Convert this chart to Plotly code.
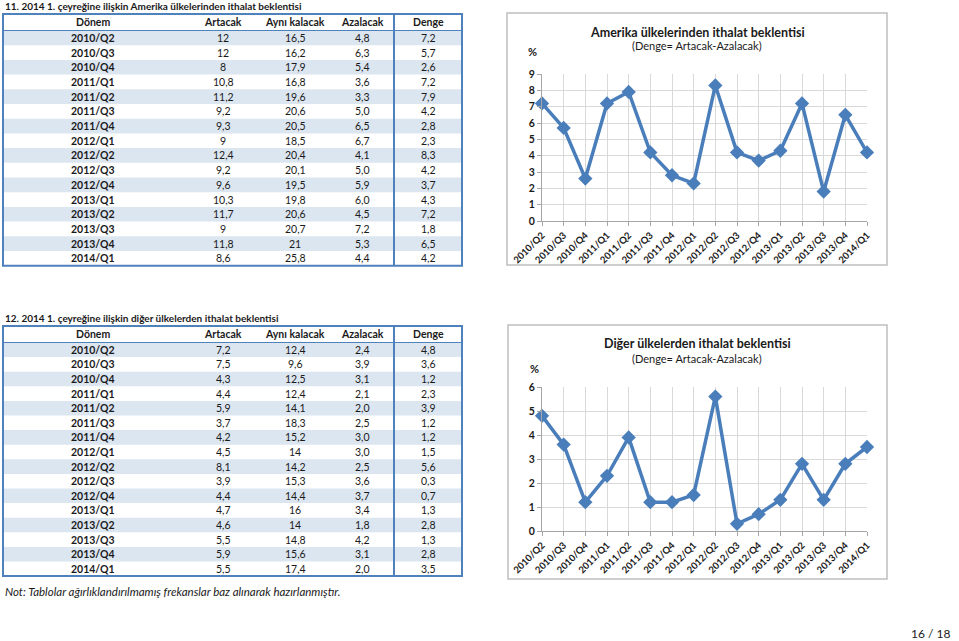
import plotly.graph_objects as go

W, H = 959, 641

periods = ["2010/Q2", "2010/Q3", "2010/Q4", "2011/Q1", "2011/Q2", "2011/Q3", "2011/Q4", "2012/Q1",
           "2012/Q2", "2012/Q3", "2012/Q4", "2013/Q1", "2013/Q2", "2013/Q3", "2013/Q4", "2014/Q1"]
col_headers = ["Dönem", "Artacak", "Aynı kalacak", "Azalacak", "Denge"]

am_artacak = [12, 12, 8, 10.8, 11.2, 9.2, 9.3, 9, 12.4, 9.2, 9.6, 10.3, 11.7, 9, 11.8, 8.6]
am_ayni = [16.5, 16.2, 17.9, 16.8, 19.6, 20.6, 20.5, 18.5, 20.4, 20.1, 19.5, 19.8, 20.6, 20.7, 21, 25.8]
am_azalacak = [4.8, 6.3, 5.4, 3.6, 3.3, 5.0, 6.5, 6.7, 4.1, 5.0, 5.9, 6.0, 4.5, 7.2, 5.3, 4.4]
am_denge = [7.2, 5.7, 2.6, 7.2, 7.9, 4.2, 2.8, 2.3, 8.3, 4.2, 3.7, 4.3, 7.2, 1.8, 6.5, 4.2]

dg_artacak = [7.2, 7.5, 4.3, 4.4, 5.9, 3.7, 4.2, 4.5, 8.1, 3.9, 4.4, 4.7, 4.6, 5.5, 5.9, 5.5]
dg_ayni = [12.4, 9.6, 12.5, 12.4, 14.1, 18.3, 15.2, 14, 14.2, 15.3, 14.4, 16, 14, 14.8, 15.6, 17.4]
dg_azalacak = [2.4, 3.9, 3.1, 2.1, 2.0, 2.5, 3.0, 3.0, 2.5, 3.6, 3.7, 3.4, 1.8, 4.2, 3.1, 2.0]
dg_denge = [4.8, 3.6, 1.2, 2.3, 3.9, 1.2, 1.2, 1.5, 5.6, 0.3, 0.7, 1.3, 2.8, 1.3, 2.8, 3.5]

title1 = "11. 2014 1. çeyreğine ilişkin Amerika ülkelerinden ithalat beklentisi"
title2 = "12. 2014 1. çeyreğine ilişkin diğer ülkelerden ithalat beklentisi"
chart1_title = "Amerika ülkelerinden ithalat beklentisi"
chart2_title = "Diğer ülkelerden ithalat beklentisi"
subtitle = "(Denge= Artacak-Azalacak)"
note = "Not: Tablolar ağırlıklandırılmamış frekanslar baz alınarak hazırlanmıştır."
page = "16 / 18"

FONT = "Lato"
BLUE = "#4f81bd"
BAND = "#dce6f1"
LINE = "#4a7ebb"
TXT = "#1a1a1a"


def X(p):
    return p / W


def Y(p):
    return 1 - p / H


def gen(v):
    return f"{v:g}".replace(".", ",")


def fix1(v):
    return f"{v:.1f}".replace(".", ",")


shapes = []
annotations = []


def text(x, y, s, size=11, bold=False, italic=False, xanchor="center", color=TXT):
    t = s
    if bold:
        t = "<b>" + t + "</b>"
    if italic:
        t = "<i>" + t + "</i>"
    annotations.append(dict(x=X(x), y=Y(y), xref="paper", yref="paper", text=t, showarrow=False,
                            xanchor=xanchor, yanchor="middle",
                            font=dict(family=FONT, size=size, color=color)))


def rect(x0, y0, x1, y1, fill=None, line=None, width=1):
    shapes.append(dict(type="rect", xref="paper", yref="paper", x0=X(x0), x1=X(x1), y0=Y(y0), y1=Y(y1),
                       fillcolor=fill if fill else "rgba(0,0,0,0)",
                       line=dict(color=line if line else "rgba(0,0,0,0)", width=width if line else 0),
                       layer="below"))


def hline(x0, x1, y, color, width):
    shapes.append(dict(type="line", xref="paper", yref="paper", x0=X(x0), x1=X(x1), y0=Y(y), y1=Y(y),
                       line=dict(color=color, width=width)))


def vline(x, y0, y1, color, width):
    shapes.append(dict(type="line", xref="paper", yref="paper", x0=X(x), x1=X(x), y0=Y(y0), y1=Y(y1),
                       line=dict(color=color, width=width)))


col_x = [93, 223, 295, 362, 428]
tab_left, tab_right, sep_x = 3, 462, 394


def draw_table(title, title_y, top, header_h, row_h, artacak, ayni, azalacak, denge):
    text(3, title_y, title, size=10, bold=True, xanchor="left")
    hdr_bottom = top + header_h
    n = len(periods)
    bottom = hdr_bottom + n * row_h
    for i in range(n):
        if i % 2 == 0:
            rect(tab_left, hdr_bottom + i * row_h, tab_right, hdr_bottom + (i + 1) * row_h, fill=BAND)
    hline(tab_left, tab_right, hdr_bottom, BLUE, 1)
    vline(sep_x, top, bottom, BLUE, 2)
    shapes.append(dict(type="rect", xref="paper", yref="paper", x0=X(tab_left), x1=X(tab_right),
                       y0=Y(top), y1=Y(bottom), line=dict(color=BLUE, width=2)))
    for j, h in enumerate(col_headers):
        text(col_x[j], top + header_h / 2, h, size=10.5, bold=True)
    for i in range(n):
        cy = hdr_bottom + (i + 0.5) * row_h
        text(col_x[0], cy, periods[i], size=10.5, bold=True)
        text(col_x[1], cy, gen(artacak[i]), size=10.5)
        text(col_x[2], cy, gen(ayni[i]), size=10.5)
        text(col_x[3], cy, fix1(azalacak[i]), size=10.5)
        text(col_x[4], cy, fix1(denge[i]), size=10.5)
    return bottom


draw_table(title1, 6, 14, 16.5, 14.7, am_artacak, am_ayni, am_azalacak, am_denge)
draw_table(title2, 318, 326, 16.5, 14.6, dg_artacak, dg_ayni, dg_azalacak, dg_denge)
text(3, 591, note, size=11.5, italic=True, xanchor="left")
text(952, 633, page, size=12, xanchor="right")

# chart boxes
rect(507, 13, 887, 265, line="#bfbfbf", width=1.5)
rect(508, 325, 887, 579, line="#bfbfbf", width=1.5)

text(697, 32, chart1_title, size=12.5, bold=True)
text(697, 46, subtitle, size=11)
text(532, 52, "%", size=11, bold=True)
text(697, 343, chart2_title, size=12.5, bold=True)
text(697, 358, subtitle, size=11)
text(534, 368, "%", size=11, bold=True)

fig = go.Figure()
fig.add_trace(go.Scatter(x=periods, y=am_denge, mode="lines+markers", xaxis="x", yaxis="y",
                         line=dict(color=LINE, width=3.5),
                         marker=dict(symbol="diamond", size=11, color=LINE),
                         cliponaxis=False, showlegend=False, hoverinfo="skip"))
fig.add_trace(go.Scatter(x=periods, y=dg_denge, mode="lines+markers", xaxis="x2", yaxis="y2",
                         line=dict(color=LINE, width=3.5),
                         marker=dict(symbol="diamond", size=11, color=LINE),
                         cliponaxis=False, showlegend=False, hoverinfo="skip"))

xcommon = dict(type="category", range=[0, 15], showgrid=True, gridcolor="#d9d9d9", gridwidth=1,
               showline=True, linecolor="#a6a6a6", linewidth=1, ticks="outside", ticklen=4,
               tickcolor="#a6a6a6", tickangle=-45, tickfont=dict(family=FONT, size=9.5, color=TXT),
               zeroline=False, fixedrange=True, automargin=False,
               tickprefix="<b>", ticksuffix="</b>")
ycommon = dict(showgrid=True, gridcolor="#d9d9d9", gridwidth=1, dtick=1, showline=True,
               linecolor="#a6a6a6", linewidth=1, ticks="outside", ticklen=4, tickcolor="#a6a6a6",
               tickfont=dict(family=FONT, size=10.5, color=TXT), zeroline=False, fixedrange=True,
               automargin=False, tickprefix="<b>", ticksuffix="</b>")

fig.update_layout(
    width=W, height=H, autosize=False,
    margin=dict(l=0, r=0, t=0, b=0, pad=0, autoexpand=False),
    paper_bgcolor="white", plot_bgcolor="white",
    xaxis=dict(domain=[X(542), X(867)], anchor="y", **xcommon),
    yaxis=dict(domain=[Y(221), Y(74)], anchor="x", range=[0, 9], **ycommon),
    xaxis2=dict(domain=[X(542), X(867)], anchor="y2", **xcommon),
    yaxis2=dict(domain=[Y(531), Y(387)], anchor="x2", range=[0, 6], **ycommon),
    shapes=shapes, annotations=annotations,
    font=dict(family=FONT, color=TXT),
)

fig.write_html("out.html", config={"displayModeBar": False},
               post_script="document.body.style.margin='0';document.body.style.overflow='hidden';")
